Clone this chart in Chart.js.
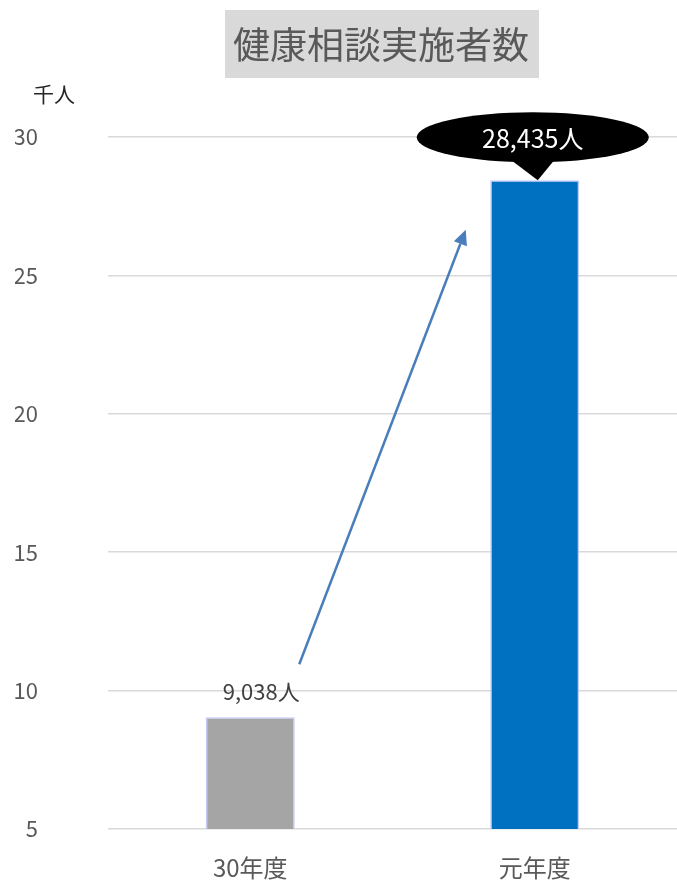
<!DOCTYPE html>
<html>
<head>
<meta charset="utf-8">
<script src="https://cdn.jsdelivr.net/npm/chart.js@4"></script>
<style>
html,body{margin:0;padding:0;background:#fff;}
#wrap{width:677px;height:880px;position:relative;}
</style>
</head>
<body>
<div id="wrap"><canvas id="c" width="677" height="880"></canvas></div>
<script>
const categories = ['30年度', '元年度'];
const values = [9.038, 28.435];
const valueLabels = ['9,038人', '28,435人'];
const barColors = ['#a5a5a5', '#0070c0'];
const yTicks = [5, 10, 15, 20, 25, 30];
const titleText = '健康相談実施者数';
const unitText = '千人';

const FONT = '"Noto Sans CJK JP", "Noto Sans", sans-serif';

const decor = {
  id: 'decor',
  afterDatasetsDraw(chart) {
    const ctx = chart.ctx;
    const xs = chart.scales.x, ys = chart.scales.y;
    ctx.save();
    // title box
    ctx.fillStyle = '#d9d9d9';
    ctx.fillRect(225, 10, 314, 68);
    ctx.fillStyle = '#595959';
    ctx.font = '37px ' + FONT;
    ctx.textAlign = 'center';
    ctx.textBaseline = 'middle';
    ctx.fillText(titleText, 381, 45);
    // unit
    ctx.fillStyle = '#262626';
    ctx.font = '21px ' + FONT;
    ctx.fillText(unitText, 54, 94);

    // label for first bar
    const x0 = xs.getPixelForValue(0);
    ctx.fillStyle = '#404040';
    ctx.font = '22px ' + FONT;
    ctx.fillText(valueLabels[0], x0 + 11, ys.getPixelForValue(values[0]) - 26);

    // callout for second bar
    const x1 = xs.getPixelForValue(1);
    const yTop = ys.getPixelForValue(values[1]);
    const cx = x1 - 2, cy = yTop - 43;
    ctx.fillStyle = '#000';
    ctx.beginPath();
    ctx.moveTo(cx - 32, cy + 15);
    ctx.lineTo(x1 + 3, yTop);
    ctx.lineTo(cx + 28, cy + 15);
    ctx.closePath();
    ctx.fill();
    ctx.beginPath();
    ctx.ellipse(cx, cy, 116, 25, 0, 0, Math.PI * 2);
    ctx.fill();
    ctx.fillStyle = '#fff';
    ctx.font = '25px ' + FONT;
    ctx.fillText(valueLabels[1], cx, cy + 1);

    // arrow
    const sx = x0 + 49, sy = ys.getPixelForValue(10.95);
    const ex = x1 - 69, ey = ys.getPixelForValue(26.65);
    const ang = Math.atan2(ey - sy, ex - sx);
    const head = 15, hw = 7;
    const bx = ex - head * Math.cos(ang), by = ey - head * Math.sin(ang);
    ctx.strokeStyle = '#4a7ebb';
    ctx.fillStyle = '#4a7ebb';
    ctx.lineWidth = 2.5;
    ctx.beginPath();
    ctx.moveTo(sx, sy);
    ctx.lineTo(bx, by);
    ctx.stroke();
    ctx.beginPath();
    ctx.moveTo(ex, ey);
    ctx.lineTo(bx + hw * Math.sin(ang), by - hw * Math.cos(ang));
    ctx.lineTo(bx - hw * Math.sin(ang), by + hw * Math.cos(ang));
    ctx.closePath();
    ctx.fill();
    ctx.restore();
  }
};

new Chart(document.getElementById('c'), {
  type: 'bar',
  data: {
    labels: categories,
    datasets: [{
      data: values,
      backgroundColor: barColors,
      borderColor: '#c5cbf5',
      borderWidth: 1.5,
      barPercentage: 0.313,
      categoryPercentage: 1
    }]
  },
  options: {
    responsive: false,
    animation: false,
    devicePixelRatio: 1,
    layout: { padding: { top: 137, left: 15, right: 0, bottom: 0 } },
    plugins: { legend: { display: false }, tooltip: { enabled: false }, title: { display: false } },
    scales: {
      x: {
        grid: { display: false },
        border: { display: false },
        ticks: { color: '#595959', font: { family: FONT, size: 24 }, padding: 16 },
        afterFit(axis) { axis.height = 51; axis.paddingLeft = 0; axis.paddingRight = 0; }
      },
      y: {
        min: 5, max: 30,
        afterBuildTicks(axis) { axis.ticks = yTicks.map(v => ({ value: v })); },
        grid: { color: '#d9d9d9', lineWidth: 1.5, drawTicks: false },
        border: { display: false },
        ticks: { color: '#595959', font: { family: FONT, size: 22 }, padding: 70 },
        afterFit(axis) { axis.width = 93; axis.paddingTop = 0; axis.paddingBottom = 0; }
      }
    }
  },
  plugins: [decor]
});
</script>
</body>
</html>
